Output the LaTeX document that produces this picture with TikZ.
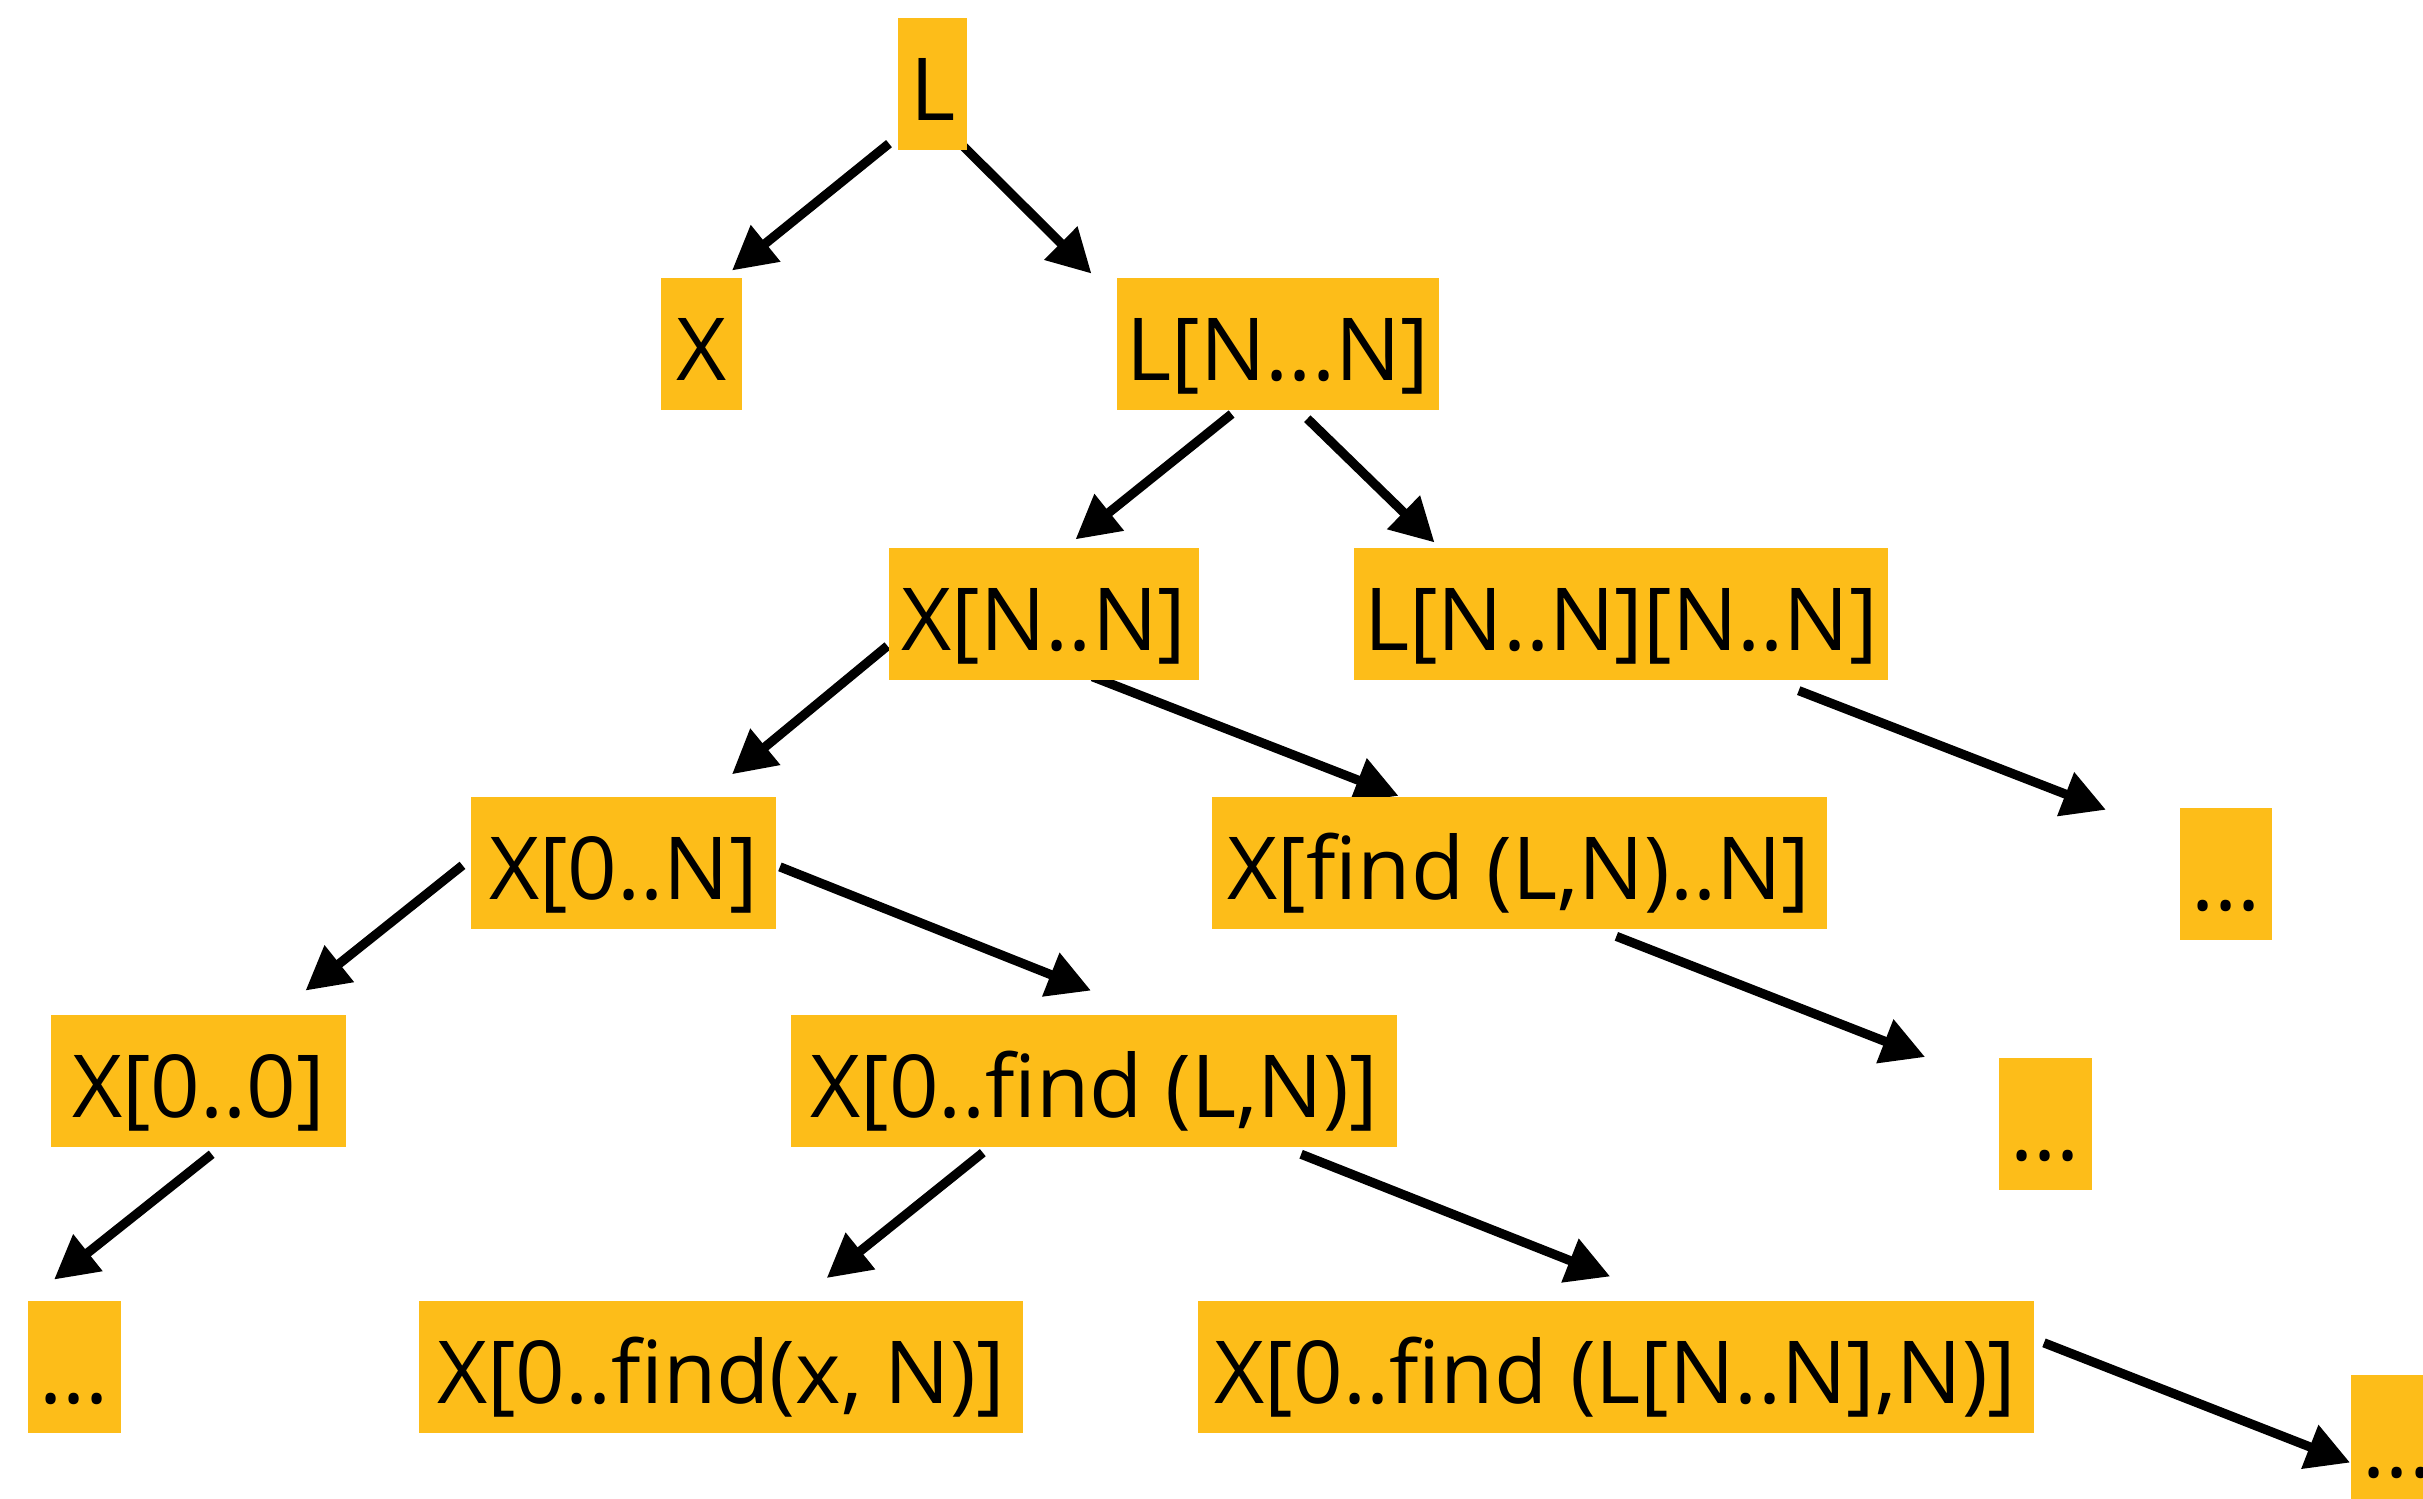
\documentclass[tikz,border=0pt]{standalone}
\usepackage{fontspec}
\setmainfont{Open Sans}[Ligatures=NoCommon]
\usetikzlibrary{arrows.meta}

\definecolor{boxfill}{HTML}{FDBD19}

\pgfdeclarelayer{edges}
\pgfsetlayers{edges,main}

\tikzset{
    box/.style={fill=boxfill, inner xsep=0.03cm, inner ysep=0pt,
        text height=0.665cm, text depth=0.19cm,
        font=\fontsize{16}{19}\selectfont},
    dots/.style={box, minimum width=0.6cm},
    edge/.style={line width=1.7pt, -{Triangle[length=0.28cm,width=0.29cm]}},
}

\begin{document}
\begin{tikzpicture}
\useasboundingbox (0,0) rectangle (15.68,9.70);

% the tree of ranges
\node[box, minimum width=0.45cm] (L)    at (6.035,9.155)  {L};
\node[box, minimum width=0.52cm] (X)    at (4.54,7.475)   {X};
\node[box, minimum width=2.08cm] (LN)   at (8.27,7.475)   {L[N...N]};
\node[box, minimum width=2.01cm] (XNN)  at (6.755,5.725)  {X[N..N]};
\node[box, minimum width=3.46cm] (LNN)  at (10.49,5.725)  {L[N..N][N..N]};
\node[box, minimum width=1.97cm] (X0N)  at (4.035,4.115)  {X[0..N]};
\node[box, minimum width=3.98cm] (XF)   at (9.83,4.115)   {X[find (L,N)..N]};
\node[dots] (dotsA) at (14.405,4.045) {...};
\node[box, minimum width=1.91cm] (X00)  at (1.285,2.705)  {X[0..0]};
\node[box, minimum width=3.92cm] (X0F)  at (7.08,2.705)   {X[0..find (L,N)]};
\node[dots] (dotsB) at (13.235,2.425) {...};
\node[dots] (dotsC) at (0.48,0.855)  {...};
\node[box, minimum width=3.91cm] (X0Fx) at (4.665,0.855)  {X[0..find(x, N)]};
\node[box, minimum width=5.41cm] (X0FL) at (10.455,0.855) {X[0..find (L[N..N],N)]};
\node[dots] (dotsD) at (15.515,0.375) {...};

% arrows go under the boxes
\begin{pgfonlayer}{edges}
\draw[edge] ([shift={(-0.05,0.05)}]L.south west) -- ([shift={(-0.07,0.04)}]X.north east);
\draw[edge] ([shift={(-0.03,0.03)}]L.south east) -- ([shift={(-0.16,0.02)}]LN.north west);
\draw[edge] ([shift={(-0.30,-0.02)}]LN.south) -- ([shift={(0.205,0.05)}]XNN.north);
\draw[edge] ([shift={(0.19,-0.05)}]LN.south) -- ([shift={(0.53,0.03)}]LNN.north west);
\draw[edge] ([shift={(0,-0.205)}]XNN.west) -- ([shift={(-0.29,0.14)}]X0N.north east);
\draw[edge] ([shift={(0.315,0.03)}]XNN.south) -- ([shift={(-0.78,0)}]XF.north);
\draw[edge] ([shift={(1.15,-0.06)}]LNN.south) -- ([shift={(-0.47,-0.02)}]dotsA.north west);
\draw[edge] ([shift={(-0.05,-0.015)}]X0N.west) -- ([shift={(-0.27,0.15)}]X00.north east);
\draw[edge] ([shift={(0.02,-0.025)}]X0N.east) -- ([shift={(-0.02,0.15)}]X0F.north);
\draw[edge] ([shift={(0.63,-0.04)}]XF.south) -- ([shift={(-0.47,0)}]dotsB.north west);
\draw[edge] ([shift={(0.085,-0.04)}]X00.south) -- ([shift={(-0.13,0.13)}]dotsC.north);
\draw[edge] ([shift={(-0.72,-0.03)}]X0F.south) -- ([shift={(0.685,0.14)}]X0Fx.north);
\draw[edge] ([shift={(1.34,-0.04)}]X0F.south) -- ([shift={(-0.035,0.15)}]X0FL.north);
\draw[edge] ([shift={(0.06,0.155)}]X0FL.east) -- ([shift={(0,-0.14)}]dotsD.west);
\end{pgfonlayer}
\end{tikzpicture}
\end{document}
